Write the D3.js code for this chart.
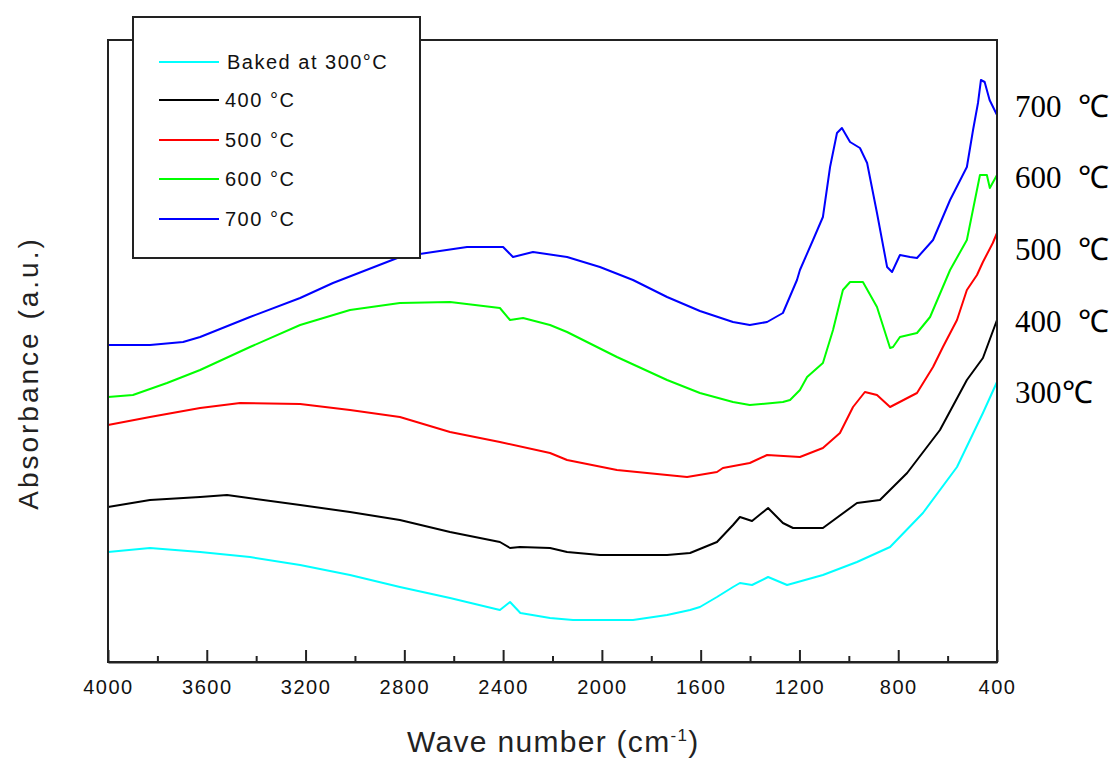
<!DOCTYPE html>
<html>
<head>
<meta charset="utf-8">
<script src="https://cdn.jsdelivr.net/npm/d3@7/dist/d3.min.js"></script>
<style>
  html, body { margin: 0; padding: 0; background: #fff; }
  svg { display: block; }
</style>
</head>
<body>
<svg id="chart" width="1111" height="762"></svg>
<script>
// ---- data (wave number in cm-1, absorbance in arbitrary units) ----
const seriesNames = ["Baked at 300\u00B0C", "400 \u00B0C", "500 \u00B0C", "600 \u00B0C", "700 \u00B0C"];
const sideLabels = ["300", "400 ", "500 ", "600 ", "700 "];
const seriesColors = ["#00ffff", "#000000", "#ff0000", "#00ff00", "#0000ff"];

const wave300 = [4000,3830,3627,3425,3222,3020,2818,2615,2413,2372,2330,2210,2117,1874,1736,1643,1603,1534,1469,1441,1392,1327,1250,1105,967,833,700,562,457,400];
const abs300  = [1.10,1.14,1.10,1.05,0.97,0.87,0.75,0.64,0.52,0.60,0.49,0.44,0.42,0.42,0.47,0.52,0.55,0.65,0.75,0.79,0.77,0.85,0.77,0.87,1.00,1.15,1.49,1.95,2.49,2.80];

const wave400 = [4000,3830,3627,3518,3222,3020,2818,2615,2413,2372,2332,2210,2141,2008,1736,1643,1534,1469,1441,1392,1327,1267,1226,1105,967,874,764,631,522,457,400];
const abs400  = [1.55,1.62,1.65,1.67,1.57,1.50,1.42,1.30,1.20,1.14,1.15,1.14,1.10,1.07,1.07,1.09,1.20,1.37,1.45,1.41,1.54,1.39,1.34,1.34,1.59,1.62,1.89,2.32,2.82,3.04,3.42];

const wave500 = [4000,3830,3627,3465,3222,3020,2818,2615,2413,2210,2141,1939,1736,1655,1534,1510,1401,1331,1198,1105,1036,983,935,886,833,724,659,619,562,522,481,457,417,400];
const abs500  = [2.37,2.45,2.54,2.59,2.58,2.52,2.45,2.30,2.20,2.09,2.02,1.92,1.87,1.85,1.90,1.94,1.99,2.07,2.05,2.14,2.29,2.55,2.70,2.67,2.55,2.69,2.95,3.15,3.42,3.72,3.87,4.00,4.19,4.29];

const wave600 = [4000,3899,3761,3627,3425,3222,3020,2818,2615,2413,2372,2319,2210,2141,1939,1736,1603,1469,1401,1267,1238,1198,1169,1105,1064,1024,995,943,886,833,821,793,724,671,590,522,469,441,429,400];
const abs600  = [2.65,2.67,2.79,2.92,3.15,3.37,3.52,3.59,3.60,3.54,3.42,3.44,3.37,3.30,3.05,2.82,2.69,2.60,2.57,2.60,2.62,2.72,2.85,2.99,3.32,3.72,3.80,3.80,3.55,3.14,3.15,3.25,3.29,3.45,3.92,4.22,4.87,4.87,4.74,4.87];

const wave700 = [4000,3830,3696,3627,3425,3222,3089,2818,2684,2546,2400,2360,2279,2141,2008,1874,1736,1603,1469,1401,1331,1267,1210,1198,1145,1105,1076,1048,1028,995,955,926,886,845,825,793,752,724,659,590,522,497,477,465,450,430,400];
const abs700  = [3.17,3.17,3.20,3.25,3.45,3.64,3.79,4.05,4.10,4.15,4.15,4.05,4.10,4.05,3.95,3.82,3.65,3.51,3.40,3.37,3.40,3.49,3.82,3.92,4.22,4.45,4.95,5.29,5.34,5.20,5.14,4.99,4.49,3.95,3.90,4.07,4.05,4.04,4.22,4.62,4.95,5.32,5.59,5.82,5.80,5.62,5.47];

const majorTicks = [4000,3600,3200,2800,2400,2000,1600,1200,800,400];
const minorTicks = [3800,3400,3000,2600,2200,1800,1400,1000,600];

const allWaves = [wave300, wave400, wave500, wave600, wave700];
const allAbs = [abs300, abs400, abs500, abs600, abs700];

// ---- layout ----
const svg = d3.select("#chart");
const L = 108, R = 997, T = 40, B = 662;
const x = d3.scaleLinear().domain([4000, 400]).range([L, R]);
const y = d3.scaleLinear().domain([0, 6.22]).range([B, T]);

// curves
const line = d3.line().x(d => x(d[0])).y(d => y(d[1]));
allWaves.forEach((w, i) => {
  const pts = w.map((v, j) => [v, allAbs[i][j]]);
  svg.append("path")
    .datum(pts)
    .attr("d", line)
    .attr("fill", "none")
    .attr("stroke", seriesColors[i])
    .attr("stroke-width", 2)
    .attr("stroke-linejoin", "round");
});

// frame
svg.append("rect")
  .attr("x", L).attr("y", T).attr("width", R - L).attr("height", B - T)
  .attr("fill", "none").attr("stroke", "#222").attr("stroke-width", 2);

// bottom axis - major
const axMajor = d3.axisBottom(x).tickValues(majorTicks).tickSizeInner(-12).tickSizeOuter(0).tickPadding(18).tickFormat(d3.format("d"));
const gMaj = svg.append("g").attr("transform", `translate(0,${B})`).call(axMajor);
gMaj.select(".domain").attr("stroke", "#222").attr("stroke-width", 2);
gMaj.selectAll(".tick line").attr("stroke", "#222").attr("stroke-width", 2);
gMaj.selectAll(".tick text")
  .attr("fill", "#111")
  .attr("font-family", "'Liberation Sans', Arial, sans-serif")
  .attr("font-size", 20)
  .attr("letter-spacing", 1.5);

// bottom axis - minor
const axMinor = d3.axisBottom(x).tickValues(minorTicks).tickSizeInner(-6).tickSizeOuter(0).tickFormat("");
const gMin = svg.append("g").attr("transform", `translate(0,${B})`).call(axMinor);
gMin.select(".domain").remove();
gMin.selectAll(".tick line").attr("stroke", "#222").attr("stroke-width", 2);

// axis titles
const xt = svg.append("text")
  .attr("x", 407).attr("y", 752)
  .attr("font-family", "'Liberation Sans', Arial, sans-serif")
  .attr("font-size", 30)
  .attr("letter-spacing", 1.3)
  .attr("fill", "#222");
xt.append("tspan").text("Wave number (cm");
xt.append("tspan").attr("dy", -11).attr("font-size", 17).text("-1");
xt.append("tspan").attr("dy", 11).text(")");

svg.append("text")
  .attr("transform", "translate(38,373) rotate(-90)")
  .attr("text-anchor", "middle")
  .attr("font-family", "'Liberation Sans', Arial, sans-serif")
  .attr("font-size", 28)
  .attr("letter-spacing", 3)
  .attr("fill", "#222")
  .text("Absorbance (a.u.)");

// legend
const lg = svg.append("g");
lg.append("rect")
  .attr("x", 133).attr("y", 17).attr("width", 287).attr("height", 241)
  .attr("fill", "#fff").attr("stroke", "#222").attr("stroke-width", 2);
const rowY = [62, 100, 140, 179, 219];
seriesNames.forEach((n, i) => {
  lg.append("line")
    .attr("x1", 159).attr("x2", 219)
    .attr("y1", rowY[i]).attr("y2", rowY[i])
    .attr("stroke", seriesColors[i]).attr("stroke-width", 2);
  lg.append("text")
    .attr("x", i === 0 ? 227 : 225).attr("y", rowY[i] + 7)
    .attr("font-family", "'Liberation Sans', Arial, sans-serif")
    .attr("font-size", 20)
    .attr("letter-spacing", 1.5)
    .attr("fill", "#111")
    .text(n);
});

// right side labels
const sideBase = [403, 332, 260, 188, 117];
sideLabels.forEach((s, i) => {
  const t = svg.append("text")
    .attr("x", 1015).attr("y", sideBase[i])
    .attr("font-family", "'Liberation Serif', 'Times New Roman', serif")
    .attr("font-size", 31)
    .attr("fill", "#000");
  t.append("tspan").text(s);
  t.append("tspan").attr("x", i === 0 ? 1062 : 1078).text("\u2103");
});
</script>
</body>
</html>
